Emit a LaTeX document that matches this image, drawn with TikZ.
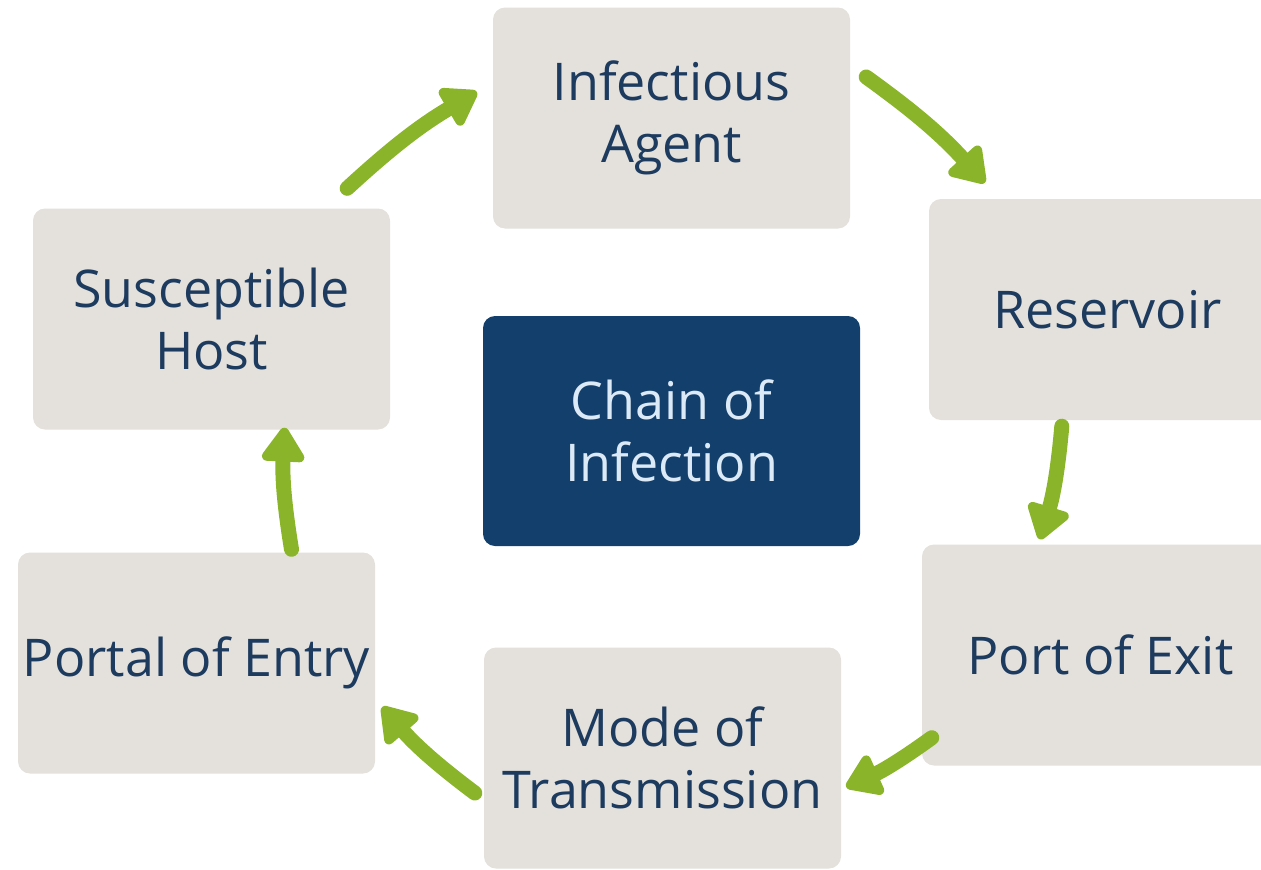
\documentclass[tikz,border=0pt]{standalone}
\usepackage{fontspec}
\setmainfont{Open Sans}
\usetikzlibrary{arrows.meta}
\definecolor{boxgrey}{HTML}{E4E1DC}
\definecolor{inknavy}{HTML}{1D3B5E}
\definecolor{hubblue}{HTML}{123F6B}
\definecolor{hubtext}{HTML}{DCE9F6}
\definecolor{linkgreen}{HTML}{8AB52A}

\begin{document}
\begin{tikzpicture}
[x=1pt,y=-1pt,
 stage/.style={rectangle,rounded corners=12pt,fill=boxgrey,text=inknavy,
   minimum width=357pt,minimum height=221pt,inner sep=0pt,align=center,
   font=\fontsize{52}{62}\selectfont},
 hub/.style={stage,fill=hubblue,text=hubtext,minimum width=377pt,minimum height=230pt},
 link/.style={draw=linkgreen,line width=15pt,line cap=round,
   -{Triangle[length=38pt,width=48pt,round]}}]

  \useasboundingbox (0,0) rectangle (1261,870);
  \clip (0,0) rectangle (1261,870);

  \node[stage] (ia) at (671.5,118) {Infectious\\Agent};
  \node[stage] (res) at (1107.5,309.5) {Reservoir};
  \node[stage] (poe) at (1100.5,655) {Port of Exit};
  \node[stage] (mode) at (662.5,758) {Mode of\\Transmission};
  \node[stage] (portal) at (196.5,663) {Portal of Entry};
  \node[stage] (sh) at (211.5,319) {Susceptible\\Host};
  \node[hub] (chain) at (671.5,431) {Chain of\\Infection};

  \foreach \a/\sa/\b/\sb in {sh.north east/{-43,-20}/ia.west/{-16,-26},
      ia.east/{16,-41}/res.north west/{56,-16},
      res.south west/{133,6}/poe.north west/{118,-5},
      poe.south west/{10,-28}/mode.east/{5,29},
      mode.west/{-9,35}/portal.east/{7,44},
      portal.north/{95,-3}/sh.south/{73,-2}}
    \draw[link] ([shift={(\sa)}]\a) to[bend left=6] ([shift={(\sb)}]\b);

\end{tikzpicture}
\end{document}
